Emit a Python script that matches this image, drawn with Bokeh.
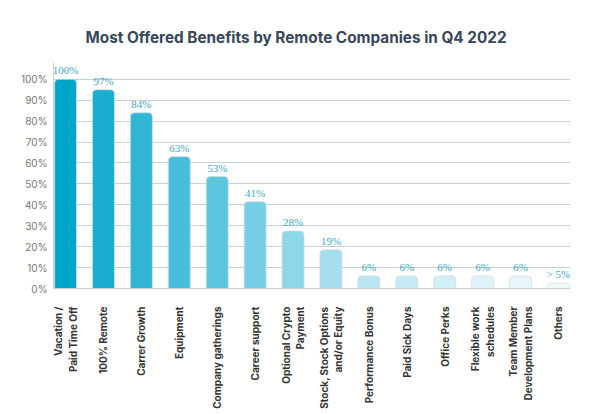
from bokeh.plotting import figure
from bokeh.models import ColumnDataSource, FixedTicker, CustomJSTickFormatter, LabelSet, Range1d, FactorRange
from bokeh.embed import file_html
from bokeh.resources import INLINE
import math

categories = ["Vacation /\nPaid Time Off", "100% Remote", "Carrer Growth", "Equipment",
              "Company gatherings", "Career support", "Optional Crypto\nPayment",
              "Stock, Stock Options\nand/or Equity", "Performance Bonus", "Paid Sick Days",
              "Office Perks", "Flexible work\nschedules", "Team Member\nDevelopment Plans", "Others"]
values = [100, 95, 84, 63, 53.5, 41.5, 27.5, 18.5, 6, 6, 6, 6, 6, 2.5]
value_labels = ["100%", "97%", "84%", "63%", "53%", "41%", "28%", "19%", "6%", "6%", "6%", "6%", "6%", "> 5%"]
colors = ["#00a6ca", "#19aed0", "#2fb6d5", "#45bedb", "#5dc6df", "#74cee4", "#8dd7e9",
          "#a5dfee", "#b8e6f2", "#c6ebf5", "#d3f0f7", "#ddf3f9", "#e7f7fb", "#f1fbfd"]
y_ticks = [0, 10, 20, 30, 40, 50, 60, 70, 80, 90, 100]

src = ColumnDataSource(dict(cat=categories, val=values, lab=value_labels, col=colors))

p = figure(x_range=FactorRange(factors=categories, range_padding=-0.026),
           frame_width=517, frame_height=226, output_backend="svg",
           toolbar_location=None, title="Most Offered Benefits by Remote Companies in Q4 2022")
p.y_range = Range1d(0, 108)
p.margin = (10, 0, 0, 17)
p.min_border_left = 0
p.min_border_right = 10
p.min_border_bottom = 0
p.min_border_top = 0
p.outline_line_color = None

p.title.align = "left"
p.title.text_font = "Inter"
p.title.text_font_size = "15.3px"
p.title.text_font_style = "bold"
p.title.text_color = "#37475a"
p.title.offset = 32
p.title.standoff = 31

p.vbar(x="cat", top="val", width=0.58, source=src, fill_color="col",
       line_color="#d5dcdf", line_width=0.8, border_radius=(4, 4, 0, 0))

labels = LabelSet(x="cat", y="val", text="lab", source=src, text_align="center",
                  text_baseline="bottom", y_offset=3, text_font="Inter",
                  text_font_size="11px", text_color="#3aa8c6")
p.add_layout(labels)

p.yaxis.ticker = FixedTicker(ticks=y_ticks)
p.yaxis.formatter = CustomJSTickFormatter(code="return tick + '%';")
p.yaxis.major_tick_line_color = None
p.yaxis.minor_tick_line_color = None
p.yaxis.axis_line_color = "#c9d0d3"
p.yaxis.major_label_text_font = "Inter"
p.yaxis.major_label_text_font_size = "10px"
p.yaxis.major_label_text_color = "#777777"
p.yaxis.major_label_standoff = 0

p.xaxis.major_tick_line_color = None
p.xaxis.axis_line_color = "#c9d0d3"
p.xaxis.major_label_orientation = math.pi / 2
p.xaxis.major_label_text_font = "Inter"
p.xaxis.major_label_text_font_size = "10px"
p.xaxis.major_label_text_font_style = "bold"
p.xaxis.major_label_text_color = "#333333"
p.xaxis.major_label_standoff = 12

p.xgrid.grid_line_color = None
p.ygrid.grid_line_color = "#c9d0d3"
p.ygrid.grid_line_width = 1

open("out.html", "w").write(file_html(p, INLINE))
